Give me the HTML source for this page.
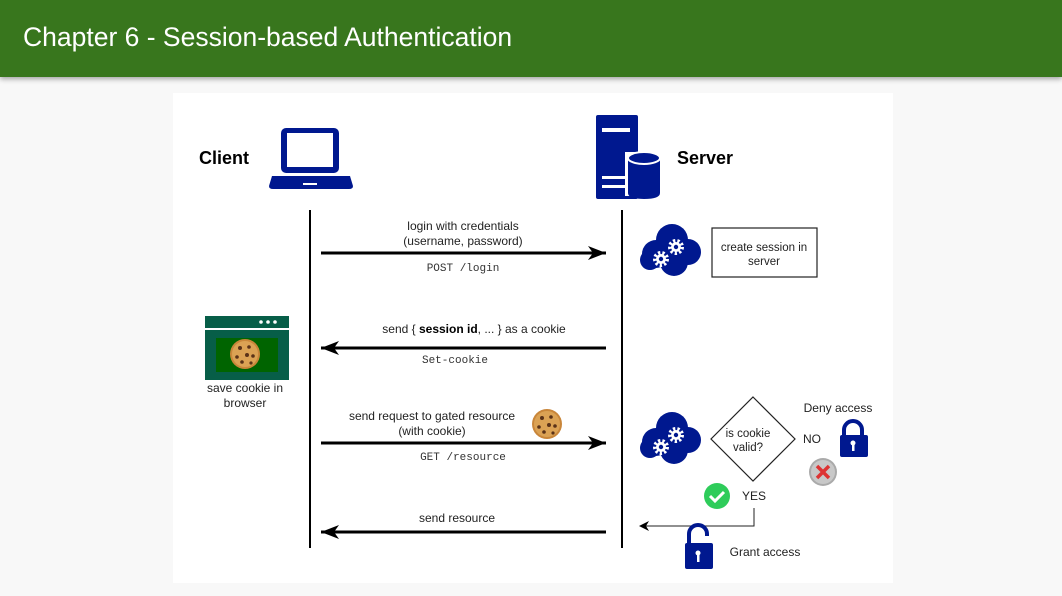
<!DOCTYPE html>
<html><head><meta charset="utf-8"><style>
html,body{margin:0;padding:0;width:1062px;height:596px;overflow:hidden;background:#f8f8f8;font-family:"Liberation Sans",sans-serif}
.hdr{position:absolute;left:0;top:0;width:1062px;height:77px;background:#38761d;box-shadow:0 2px 5px rgba(0,0,0,.35)}
.hdr span{position:absolute;left:23px;top:22px;color:#fff;font-size:26.5px}
svg{position:absolute;left:0;top:0}
</style></head><body>
<div class="hdr"><span>Chapter 6 - Session-based Authentication</span></div>
<svg width="1062" height="596" viewBox="0 0 1062 596" style="top:0">
<defs>
<marker id="ah" markerWidth="10" markerHeight="10" refX="9" refY="5" orient="auto" markerUnits="userSpaceOnUse"><path d="M0,0 L10,5 L0,10 L3,5z" fill="#000"/></marker>
<marker id="ahb" markerWidth="20" markerHeight="14" refX="18" refY="7" orient="auto" markerUnits="userSpaceOnUse"><path d="M0,0 L18,7 L0,14 L5,7z" fill="#000"/></marker>
<g id="cloud">
<circle cx="-14" cy="4" r="14" fill="#00188f"/><circle cx="2" cy="-10" r="16" fill="#00188f"/><circle cx="18" cy="2" r="13" fill="#00188f"/><circle cx="4" cy="12" r="14" fill="#00188f"/><circle cx="-20" cy="10" r="10" fill="#00188f"/>
<circle cx="-9" cy="9" r="6" fill="none" stroke="#fff" stroke-width="4" stroke-dasharray="2.2 2"/><circle cx="-9" cy="9" r="5" fill="#fff"/><circle cx="-9" cy="9" r="2.2" fill="#00188f"/>
<circle cx="6" cy="-3" r="6" fill="none" stroke="#fff" stroke-width="4" stroke-dasharray="2.2 2"/><circle cx="6" cy="-3" r="5" fill="#fff"/><circle cx="6" cy="-3" r="2.2" fill="#00188f"/>
</g>
<g id="cookie"><circle r="15" fill="#c9863a"/><circle r="13" fill="#dba254"/><circle cx="-5" cy="-6" r="2" fill="#5a3218"/><circle cx="4" cy="-7" r="1.8" fill="#5a3218"/><circle cx="-8" cy="3" r="1.8" fill="#5a3218"/><circle cx="2" cy="1" r="2" fill="#5a3218"/><circle cx="8" cy="2" r="1.8" fill="#5a3218"/><circle cx="-3" cy="8" r="1.8" fill="#5a3218"/><circle cx="6" cy="9" r="1.6" fill="#5a3218"/></g>
</defs>
<rect x="173" y="93" width="720" height="490" fill="#fff"/>
<rect x="712" y="228" width="105" height="49" fill="#fff" stroke="#222" stroke-width="1.2"/>
<path d="M753,397 L795,439 L753,481 L711,439z" fill="#fff" stroke="#222" stroke-width="1.2"/>
<g font-family="Liberation Sans,sans-serif" fill="#000">
<text x="199" y="164" font-size="18" font-weight="bold">Client</text>
<text x="677" y="164" font-size="18" font-weight="bold">Server</text>
</g>
<rect x="281" y="128" width="58" height="45" rx="5" fill="#00188f"/><rect x="287" y="133" width="46" height="34" fill="#fff"/>
<path d="M272,176 H350 L353,186 Q353,189 349,189 H273 Q269,189 269,186z" fill="#00188f"/><rect x="303" y="183" width="14" height="2" fill="#fff"/>
<rect x="596" y="115" width="42" height="84" rx="2" fill="#00188f"/><rect x="602" y="128" width="28" height="4" fill="#fff"/><rect x="602" y="176" width="26" height="3" fill="#fff"/><rect x="602" y="185" width="26" height="3" fill="#fff"/>
<rect x="625" y="152" width="38" height="44" fill="#fff"/>
<path d="M628,158 v35 q0,6 16,6 q16,0 16,-6 v-35z" fill="#00188f"/><ellipse cx="644" cy="158" rx="16" ry="6" fill="#00188f" stroke="#fff" stroke-width="2"/>
<line x1="310" y1="210" x2="310" y2="548" stroke="#000" stroke-width="2"/>
<line x1="622" y1="210" x2="622" y2="548" stroke="#000" stroke-width="2"/>
<line x1="321" y1="253" x2="606" y2="253" stroke="#000" stroke-width="3" marker-end="url(#ahb)"/>
<line x1="606" y1="348" x2="321" y2="348" stroke="#000" stroke-width="3" marker-end="url(#ahb)"/>
<line x1="321" y1="443" x2="606" y2="443" stroke="#000" stroke-width="3" marker-end="url(#ahb)"/>
<line x1="606" y1="532" x2="321" y2="532" stroke="#000" stroke-width="3" marker-end="url(#ahb)"/>
<g font-family="Liberation Sans,sans-serif" font-size="12" fill="#222" text-anchor="middle">
<text x="463" y="230">login with credentials</text><text x="463" y="245">(username, password)</text>
<text x="474" y="333">send { <tspan font-weight="bold" fill="#000">session id</tspan>, ... } as a cookie</text>
<text x="432" y="420">send request to gated resource</text><text x="432" y="435">(with cookie)</text>
<text x="457" y="522">send resource</text>
<text x="245" y="392">save cookie in</text><text x="245" y="407">browser</text>
<text x="764" y="251" font-size="11.5">create session in</text><text x="764" y="265" font-size="11.5">server</text>
<text x="748" y="437" font-size="11.5">is cookie</text><text x="748" y="451" font-size="11.5">valid?</text>
<text x="838" y="412">Deny access</text>
<text x="812" y="443">NO</text>
<text x="754" y="500">YES</text>
<text x="765" y="556">Grant access</text>
</g>
<g font-family="Liberation Mono,monospace" font-size="11" fill="#333" text-anchor="middle">
<text x="463" y="271">POST /login</text>
<text x="455" y="363">Set-cookie</text>
<text x="463" y="460">GET /resource</text>
</g>
<rect x="205" y="316" width="84" height="12" fill="#075e48"/>
<circle cx="261" cy="322" r="1.8" fill="#fff"/><circle cx="268" cy="322" r="1.8" fill="#fff"/><circle cx="275" cy="322" r="1.8" fill="#fff"/>
<rect x="205" y="330" width="84" height="50" fill="#075e48"/><rect x="216" y="338" width="62" height="34" fill="#006400"/>
<use href="#cookie" x="245" y="354"/>
<use href="#cookie" x="547" y="424"/>
<use href="#cloud" x="670" y="250"/>
<use href="#cloud" x="670" y="438"/>
<polyline points="754,508 754,526 640,526" fill="none" stroke="#222" stroke-width="1" marker-end="url(#ah)"/>
<circle cx="717" cy="496" r="13" fill="#2ecc5a"/><path d="M710,496 l5,5 l9,-9" fill="none" stroke="#fff" stroke-width="3"/>
<circle cx="823" cy="472" r="14" fill="#aaa"/><circle cx="823" cy="472" r="12" fill="#c8c8c8"/><path d="M817,466 l12,12 M829,466 l-12,12" stroke="#d33" stroke-width="3.5"/>
<path d="M844,436 v-6 a9,9 0 0 1 18,0 v6" fill="none" stroke="#00188f" stroke-width="4"/><rect x="840" y="435" width="28" height="22" rx="2" fill="#00188f"/><circle cx="853" cy="443" r="2.5" fill="#fff"/><rect x="852" y="443" width="2.5" height="8" fill="#fff"/>
<path d="M689,543 v-9 a9,9 0 0 1 18,0 v2" fill="none" stroke="#00188f" stroke-width="4"/><rect x="685" y="543" width="28" height="26" rx="2" fill="#00188f"/><circle cx="698" cy="553" r="2.5" fill="#fff"/><rect x="697" y="553" width="2.5" height="9" fill="#fff"/>
</svg>
</body></html>
